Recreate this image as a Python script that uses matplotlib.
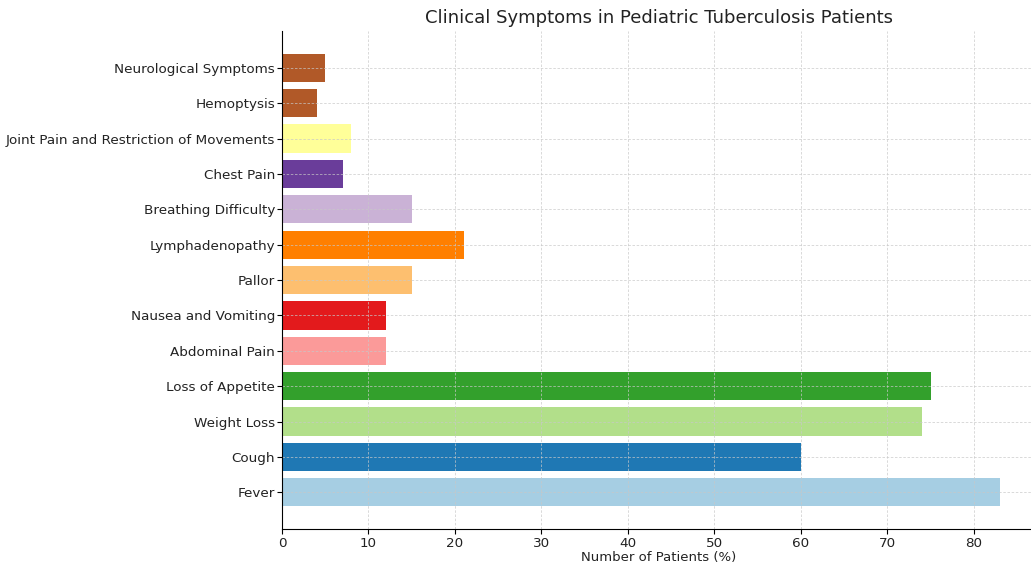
import numpy as np
import matplotlib
matplotlib.use("Agg")
import matplotlib.pyplot as plt

symptoms = [
    "Fever", "Cough", "Weight Loss", "Loss of Appetite", "Abdominal Pain",
    "Nausea and Vomiting", "Pallor", "Lymphadenopathy", "Breathing Difficulty",
    "Chest Pain", "Joint Pain and Restriction of Movements", "Hemoptysis",
    "Neurological Symptoms",
]
percent = [83, 60, 74, 75, 12, 12, 15, 21, 15, 7, 8, 4, 5]

colors = plt.cm.Paired(np.arange(len(symptoms)))

fig = plt.figure(figsize=(10.31, 5.69), dpi=100)
ax = fig.add_axes([0.2735, 0.0703, 0.731, 0.875])

ax.barh(symptoms, percent, color=colors, height=0.8)
ax.set_xlabel("Number of Patients (%)", fontsize=9.5, color="#222222", labelpad=1)
ax.set_title("Clinical Symptoms in Pediatric Tuberculosis Patients", fontsize=13, color="#222222")
ax.grid(True, linestyle=(0, (3, 2)), color="#c8c8c8", alpha=0.8, linewidth=0.6)
ax.tick_params(axis="y", labelsize=9.7, labelcolor="#222222", pad=1.5)
ax.tick_params(axis="x", labelsize=9.7, labelcolor="#222222", pad=2)
ax.spines["top"].set_visible(False)
ax.spines["right"].set_visible(False)

fig.savefig("out.png", dpi=100)
